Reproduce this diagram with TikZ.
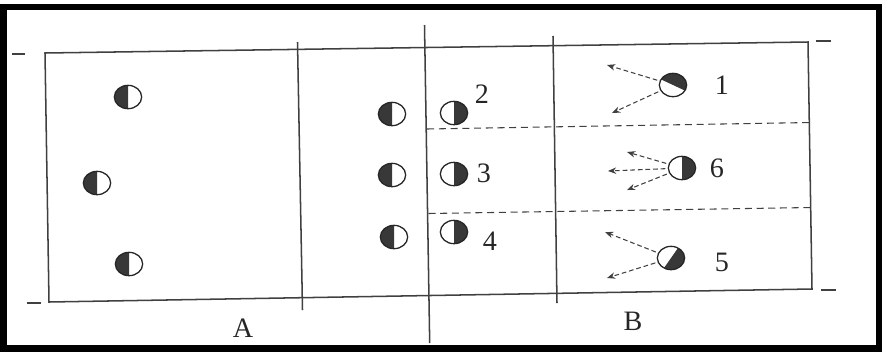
\documentclass[tikz,border=0pt]{standalone}
\usepackage{fontspec}
\setmainfont{Liberation Serif}
\usetikzlibrary{shapes.geometric,arrows.meta}

\definecolor{courtline}{HTML}{404040}
\definecolor{shirtdark}{HTML}{383838}

\begin{document}
\begin{tikzpicture}[
    x=0.03cm, y=-0.03cm,
    court/.style={line width=1.3pt, courtline},
    zone/.style={line width=0.9pt, courtline, dash pattern=on 6pt off 4pt},
    arr/.style={-{Stealth[length=7pt,width=5.5pt]}, line width=0.9pt, courtline,
                dash pattern=on 4pt off 2.5pt, shorten <=2pt},
    num/.style={font=\fontsize{24}{28}\selectfont, text=black!85, inner sep=0pt},
    player/.style={ellipse, draw=black!85, line width=1.1pt, minimum width=0.82cm,
                   minimum height=0.7cm, inner sep=0pt,
                   path picture={\fill[shirtdark]
                       ([shift={(#1-90:0.6cm)}]path picture bounding box.center)
                    -- ([shift={(#1-45:0.9cm)}]path picture bounding box.center)
                    -- ([shift={(#1+45:0.9cm)}]path picture bounding box.center)
                    -- ([shift={(#1+90:0.6cm)}]path picture bounding box.center) -- cycle;}},
    player/.default=180,
]
\useasboundingbox (0,0) rectangle (882,351);

% Scan frame
\draw[line width=5.5pt] (3.5,7) rectangle (879,348.5);

% Court
\draw[court] (45,53) -- (808,42) -- (812,289) -- (49,302) -- cycle;
\draw[court] (297.5,42) -- (302.5,310);
\draw[court] (424.5,25) -- (429.7,343);
\draw[court] (553,36) -- (557,303);

% Ticks
\draw[court] (12,54) -- (25,54);
\draw[court] (27,303) -- (41,303);
\draw[court] (816,41) -- (831,41);
\draw[court] (821,290) -- (836,290);

% Zones
\draw[zone] (427.2,129) -- (810.5,122.5);
\draw[zone] (428.5,213.5) -- (811,207.5);

% Team A
\node[player] (a1) at (128,97) {};
\node[player] (a2) at (97,183) {};
\node[player] (a3) at (129,264) {};

% Front row, left of net
\node[player] (m1) at (392,114) {};
\node[player] (m2) at (392,175) {};
\node[player] (m3) at (394,237) {};

% Front row, right of net
\node[player=0] (p2) at (454,113) {};
\node[player=0] (p3) at (454,174) {};
\node[player=0] (p4) at (454,232) {};

% Back row
\node[player=65] (p1) at (673,85) {};
\node[player=0] (p6) at (682,168) {};
\node[player=-35] (p5) at (671,258) {};

% Moves
\coordinate (t1a) at (607,65);
\coordinate (t1b) at (612,113);
\coordinate (t6a) at (627,152);
\coordinate (t6b) at (608,171);
\coordinate (t6c) at (627,190);
\coordinate (t5a) at (605,232);
\coordinate (t5b) at (607,278);

\draw[arr] (p1) -- (t1a);
\draw[arr] (p1) -- (t1b);
\draw[arr] (p6) -- (t6a);
\draw[arr] (p6) -- (t6b);
\draw[arr] (p6) -- (t6c);
\draw[arr] (p5) -- (t5a);
\draw[arr] (p5) -- (t5b);

% Numbers
\node[num] (n1) at (722,85) {1};
\node[num] (n2) at (482,94) {2};
\node[num] (n3) at (484,173) {3};
\node[num] (n4) at (490,241) {4};
\node[num] (n5) at (722,262) {5};
\node[num] (n6) at (717,168) {6};

% Sides
\node[num] (sa) at (243,328) {A};
\node[num] (sb) at (633,321) {B};

\end{tikzpicture}
\end{document}
